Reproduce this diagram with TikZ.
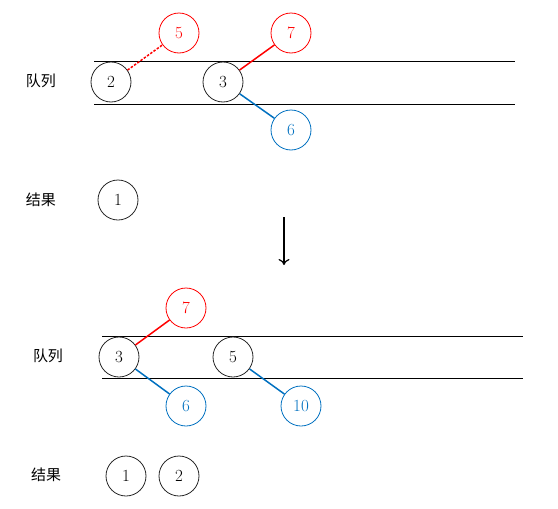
\documentclass[tikz,border=0pt]{standalone}
\usepackage{fontspec}
\newfontfamily\cjk{Noto Sans CJK SC}
\usetikzlibrary{arrows.meta}
\definecolor{qred}{RGB}{255,0,0}
\definecolor{qblue}{RGB}{0,112,192}
\tikzset{
	ball/.style={circle, draw=black!85, line width=0.8pt, minimum size=40pt, inner sep=0pt, font=\fontsize{17}{19}\selectfont},
	redball/.style={ball, draw=qred, text=qred},
	blueball/.style={ball, draw=qblue, text=qblue},
	tag/.style={font=\cjk\fontsize{15}{17}\selectfont},
	band/.style={line width=1pt},
	redlink/.style={draw=qred, line width=1.5pt},
	bluelink/.style={draw=qblue, line width=1.5pt}
}

\begin{document}
\begin{tikzpicture}[x=1pt, y=-1pt]
			%%%%% START %%%%%
			\useasboundingbox (0, 0) rectangle (558, 509);
			
			% queue before
			\draw[band] (94, 61) -- (515, 61);
			\draw[band] (94, 104) -- (515, 104);
			\node[tag] (tqa) at (41, 81) {队列};
			\node[ball] (a2) at (111, 82) {2};
			\node[ball] (a3) at (223, 82) {3};
			\node[redball] (a5) at (179, 33) {5};
			\node[redball] (a7) at (291, 33) {7};
			\node[blueball] (a6) at (291, 130) {6};
			\draw[redlink, dashed, dash pattern=on 2.5pt off 1.5pt] (a2) -- (a5);
			\draw[redlink] (a3) -- (a7);
			\draw[bluelink] (a3) -- (a6);
			
			\node[tag] (tra) at (41, 200) {结果};
			\node[ball] (r1) at (118, 200) {1};
			
			% step
			\coordinate (s1) at (284, 217);
			\coordinate (s2) at (284, 265);
			\draw[line width=1.2pt, -{To[length=6pt, width=11pt]}] (s1) -- (s2);
			
			% queue after
			\draw[band] (102, 336) -- (523, 336);
			\draw[band] (102, 378) -- (523, 378);
			\node[tag] (tqb) at (48, 356) {队列};
			\node[ball] (b3) at (119, 357) {3};
			\node[ball] (b5) at (233, 357) {5};
			\node[redball] (b7) at (186, 308) {7};
			\node[blueball] (b6) at (186, 406) {6};
			\node[blueball] (b10) at (301, 406) {10};
			\draw[redlink] (b3) -- (b7);
			\draw[bluelink] (b3) -- (b6);
			\draw[bluelink] (b5) -- (b10);
			
			\node[tag] (trb) at (46, 475) {结果};
			\node[ball] (s1n) at (126, 476) {1};
			\node[ball] (s2n) at (179, 476) {2};
			%%%%% END %%%%%
\end{tikzpicture}
\end{document}
